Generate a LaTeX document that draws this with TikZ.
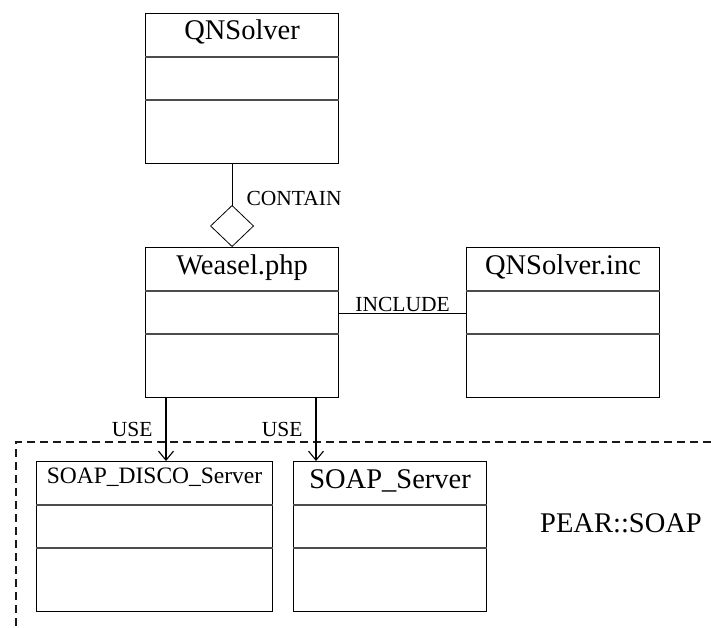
\documentclass[tikz,border=0pt]{standalone}
\usepackage{fontspec}
\setmainfont{Liberation Serif}
\usetikzlibrary{arrows.meta, positioning, calc}

% class box: [title options]{name}{left}{top}{width}{title}
\newcommand{\umlclass}[6][]{%
  \node [classframe, minimum width=#5] (#2) at (#3,#4) {};
  \node [classtitle, #1] (#2-title) at ($(#2.north)+(0,27)$) {#6};
  \draw [compline] ($(#2.north west)+(0,44)$) -- ($(#2.north east)+(0,44)$);
  \draw [compline] ($(#2.north west)+(0,87)$) -- ($(#2.north east)+(0,87)$);
}

\begin{document}
\begin{tikzpicture}[
    x=1pt, y=-1pt,
    classframe/.style={rectangle, draw, line width=1.1pt, anchor=north west, minimum height=150pt, inner sep=0pt},
    classtitle/.style={anchor=base, inner sep=0pt, font=\fontsize{28.5}{30}\selectfont},
    compline/.style={draw=black!70, line width=1.2pt},
    assoc/.style={line width=1pt},
    usearrow/.style={-{Straight Barb[length=9pt, width=15pt]}, line width=1.1pt},
    rolelabel/.style={font=\fontsize{21.5}{23}\selectfont, inner sep=1pt},
    pkgline/.style={dash pattern=on 8pt off 5pt, line width=1.2pt, draw=black!90}
]
    \useasboundingbox (0,0) rectangle (711,628);

    % Classes
    \umlclass{qnsolver}{145}{13}{193pt}{QNSolver}
    \umlclass{weasel}{145}{247}{193pt}{Weasel.php}
    \umlclass{qninc}{466}{247}{193pt}{QNSolver.inc}
    \umlclass[font=\fontsize{23.5}{25}\selectfont, yshift=5pt]{disco}{36}{461}{236pt}{SOAP\_DISCO\_Server}
    \umlclass{soapsrv}{293}{461}{193pt}{SOAP\_Server}

    % Package PEAR::SOAP
    \coordinate (pkgcorner) at (16,442);
    \draw [pkgline] (711,442) -- (pkgcorner) -- (16,628);
    \node [classtitle, anchor=center] (pear) at (621,523) {PEAR::SOAP};

    % Containment
    \draw [assoc, {Diamond[open, length=42pt, width=44pt, line width=0.8pt]}-] ([xshift=-10pt]weasel.north) -- ([xshift=-10pt]weasel.north |- qnsolver.south) node [rolelabel, pos=0.59, right=13pt] {CONTAIN};

    % Include
    \draw [assoc] ([yshift=9.5pt]weasel.east) -- ([yshift=9.5pt]weasel.east -| qninc.west) node [rolelabel, midway, above] {INCLUDE};

    % Uses
    \draw [usearrow] ([xshift=21pt]weasel.south west) -- ([xshift=21pt]weasel.south west |- disco.north) node [rolelabel, midway, left=12pt] {USE};
    \draw [usearrow] ([xshift=171pt]weasel.south west) -- ([xshift=171pt]weasel.south west |- soapsrv.north) node [rolelabel, midway, left=12pt] {USE};

\end{tikzpicture}
\end{document}
